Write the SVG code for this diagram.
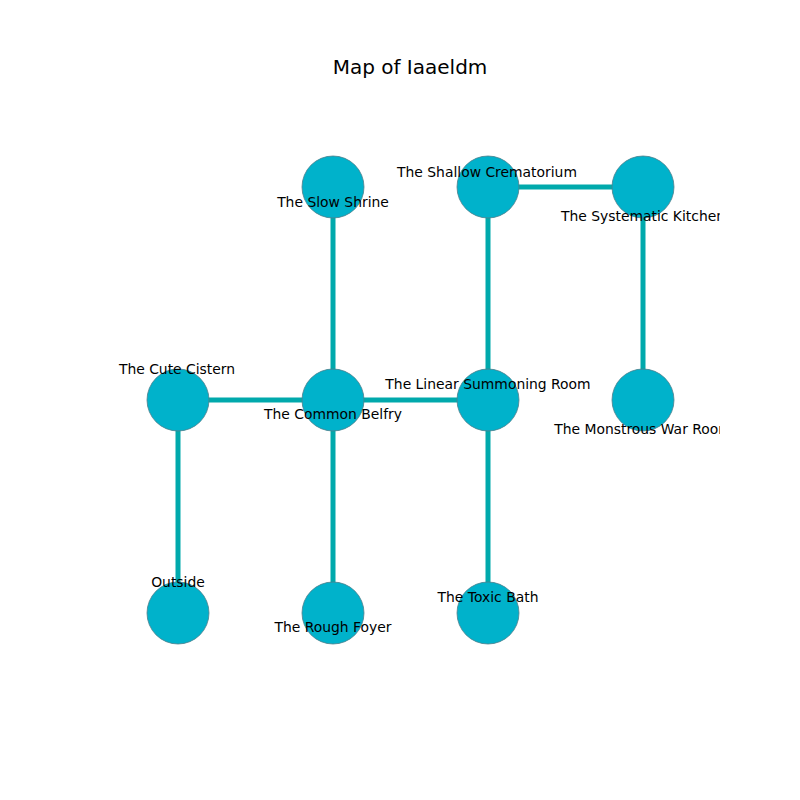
<svg xmlns="http://www.w3.org/2000/svg" width="800" height="800" viewBox="0 0 800 800">
<style>
.edge{stroke:#00a9ac;stroke-width:5;fill:none}
.node circle{fill:#00b2cb;stroke:#4d7f8c;stroke-width:0.8}
.lbl{font-family:"DejaVu Sans",sans-serif;font-size:13.9px;fill:#000;text-anchor:middle;dominant-baseline:central}
.title{font-family:"DejaVu Sans",sans-serif;font-size:20px;fill:#000;text-anchor:middle;dominant-baseline:central}
</style>
<defs><clipPath id="ax"><rect x="80" y="96" width="640" height="608"/></clipPath></defs>
<rect width="800" height="800" fill="#fff"/>
<text class="title" x="410" y="67">Map of Iaaeldm</text>
<g clip-path="url(#ax)">
<g id="connectors">
<line class="edge" x1="333" y1="187" x2="333" y2="400"/>
<line class="edge" x1="488" y1="187" x2="643" y2="187"/>
<line class="edge" x1="488" y1="187" x2="488" y2="400"/>
<line class="edge" x1="643" y1="187" x2="643" y2="400"/>
<line class="edge" x1="178" y1="400" x2="488" y2="400"/>
<line class="edge" x1="178" y1="400" x2="178" y2="613"/>
<line class="edge" x1="333" y1="400" x2="333" y2="613"/>
<line class="edge" x1="488" y1="400" x2="488" y2="613"/>
</g>
<g id="n-slow-shrine" class="node"><circle cx="333" cy="187" r="31"/></g>
<g id="n-shallow-crematorium" class="node"><circle cx="488" cy="187" r="31"/></g>
<g id="n-systematic-kitchen" class="node"><circle cx="643" cy="187" r="31"/></g>
<g id="n-cute-cistern" class="node"><circle cx="178" cy="400" r="31"/></g>
<g id="n-common-belfry" class="node"><circle cx="333" cy="400" r="31"/></g>
<g id="n-linear-summoning-room" class="node"><circle cx="488" cy="400" r="31"/></g>
<g id="n-monstrous-war-room" class="node"><circle cx="643" cy="400" r="31"/></g>
<g id="n-outside" class="node"><circle cx="178" cy="613" r="31"/></g>
<g id="n-rough-foyer" class="node"><circle cx="333" cy="613" r="31"/></g>
<g id="n-toxic-bath" class="node"><circle cx="488" cy="613" r="31"/></g>
<g id="labels">
<text class="lbl" x="333" y="202">The Slow Shrine</text>
<text class="lbl" x="487" y="172">The Shallow Crematorium</text>
<text class="lbl" x="643" y="216">The Systematic Kitchen</text>
<text class="lbl" x="177" y="369">The Cute Cistern</text>
<text class="lbl" x="333" y="414">The Common Belfry</text>
<text class="lbl" x="488" y="384">The Linear Summoning Room</text>
<text class="lbl" x="643" y="429">The Monstrous War Room</text>
<text class="lbl" x="178" y="582">Outside</text>
<text class="lbl" x="333" y="627">The Rough Foyer</text>
<text class="lbl" x="488" y="597">The Toxic Bath</text>
</g>
</g>
</svg>
